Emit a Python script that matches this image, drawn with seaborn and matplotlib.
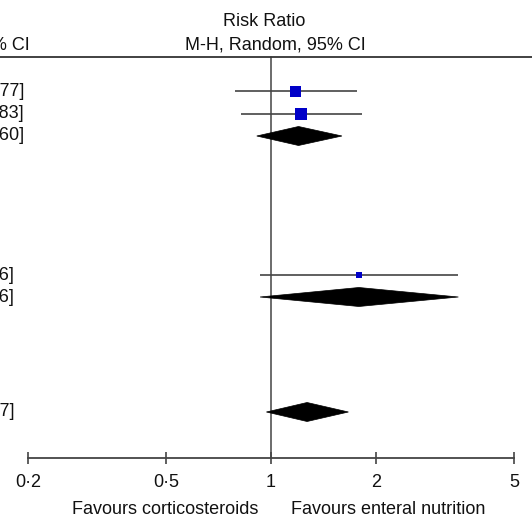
import numpy as np
import pandas as pd
import matplotlib
matplotlib.use("Agg")
import matplotlib.pyplot as plt
import seaborn as sns
from matplotlib.patches import Polygon

sns.set_style("white")
plt.rcParams['font.family'] = ['Liberation Sans', 'DejaVu Sans']

# ---- data ----
row_labels = ["1·18 [0·79, 1·77]", "1·22 [0·82, 1·83]", "1·20 [0·91, 1·60]",
              "1·79 [0·93, 3·46]", "1·79 [0·93, 3·46]", "1·27 [0·97, 1·67]"]
row_kind = ["study", "study", "total", "study", "total", "total"]
rr_est = [1.18, 1.22, 1.20, 1.79, 1.79, 1.27]
rr_lo = [0.79, 0.82, 0.91, 0.93, 0.93, 0.97]
rr_hi = [1.77, 1.83, 1.60, 3.46, 3.46, 1.67]
study_weight = [11, 12.5, 0, 6, 0, 0]   # square size (relative weight)
tick_values = [0.2, 0.5, 1, 2, 5]
tick_labels = ["0·2", "0·5", "1", "2", "5"]

# ---- layout ----
row_y = [91, 114, 136, 275, 297, 412]
label_right = [24, 24, 24, 14, 14, 14]
W, H = 532, 517
FS = 13
fig = plt.figure(figsize=(W / 100, H / 100), dpi=100)
ax = fig.add_axes([0, 0, 1, 1])
ax.set_xscale("log")
px_per_dec = 347.6
x0 = 271.0
ax.set_xlim(10 ** ((0 - x0) / px_per_dec), 10 ** ((W - x0) / px_per_dec))
ax.set_ylim(H, 0)
ax.patch.set_alpha(0)

line_col = "#444444"
# top rule and vertical line of no effect
ax.axhline(57, color="#333333", lw=1.3)
ax.plot([1, 1], [57, 458], color=line_col, lw=1.1, zorder=1)

df = pd.DataFrame(dict(y=row_y, est=rr_est, lo=rr_lo, hi=rr_hi,
                       kind=row_kind, w=study_weight))
studies = df[df.kind == "study"]
ax.hlines(studies.y, studies.lo, studies.hi, color=line_col, lw=1.2, zorder=2)
sns.scatterplot(data=studies, x="est", y="y", marker="s", s=(studies.w * 0.72) ** 2,
                color="#0000c8", edgecolor="none", ax=ax, zorder=3, legend=False)

for _, r in df[df.kind == "total"].iterrows():
    poly = Polygon([(r.lo, r.y), (r.est, r.y - 9.5), (r.hi, r.y), (r.est, r.y + 9.5)],
                   closed=True, facecolor="black", edgecolor="black", lw=0.5, zorder=3)
    ax.add_patch(poly)

# bottom axis
for s in ["top", "right", "left"]:
    ax.spines[s].set_visible(False)
ax.spines["bottom"].set_position(("data", 458))
ax.spines["bottom"].set_bounds(0.2, 5)
ax.spines["bottom"].set_color(line_col)
ax.spines["bottom"].set_linewidth(1.3)
ax.set_xticks(tick_values)
ax.set_xticklabels(tick_labels, fontsize=FS, color="#111111")
ax.xaxis.set_minor_locator(matplotlib.ticker.NullLocator())
ax.tick_params(axis="x", direction="inout", length=8, width=1.2, color=line_col,
               pad=7.5, bottom=True)
ax.set_yticks([])
ax.set_xlabel("")
ax.set_ylabel("")

# texts (pixel coords via transform)
def ptext(x, y, s, ha="center", **kw):
    ax.text(x / W, 1 - y / H, s, transform=ax.transAxes, ha=ha, va="center",
            fontsize=FS, color="#111111", **kw)

ptext(264, 22, "Risk Ratio")
ptext(275, 45, "M-H, Random, 95% CI")
ptext(30, 45, "M-H, Random, 95% CI", ha="right")
for lab, y, xr in zip(row_labels, row_y, label_right):
    ptext(xr, y, lab, ha="right")
ptext(165, 510, "Favours corticosteroids")
ptext(388, 510, "Favours enteral nutrition")

fig.savefig("out.png", dpi=100)
